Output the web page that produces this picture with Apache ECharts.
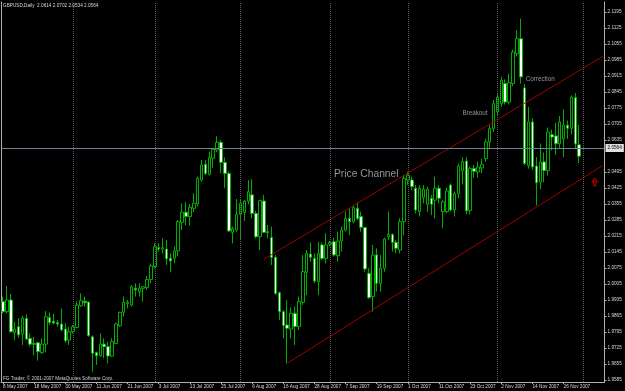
<!DOCTYPE html>
<html>
<head>
<meta charset="utf-8">
<script src="https://cdn.jsdelivr.net/npm/echarts@6/dist/echarts.min.js"></script>
<style>
  html, body { margin: 0; padding: 0; background: #000; }
  #chart { width: 625px; height: 391px; }
</style>
</head>
<body>
<div id="chart"></div>
<script>
// GBPUSD daily, one bar per trading day from 8 May 2007 to 30 Nov 2007
const opens = [
  1.9928, 1.9884, 1.9935, 1.9793, 1.9818, 1.9786, 1.9855, 1.9767, 1.9745, 1.9748,
  1.9705, 1.9742, 1.9858, 1.9842, 1.9836, 1.9830, 1.9808, 1.9760, 1.9796, 1.9815,
  1.9910, 1.9930, 1.9926, 1.9774, 1.9705, 1.9691, 1.9742, 1.9731, 1.9690, 1.9745,
  1.9823, 1.9881, 1.9920, 1.9913, 1.9986, 1.9971, 1.9986, 1.9990, 2.0025, 2.0081,
  2.0164, 2.0158, 2.0158, 2.0118, 2.0118, 2.0150, 2.0275, 2.0319, 2.0300, 2.0336,
  2.0355, 2.0460, 2.0529, 2.0485, 2.0555, 2.0591, 2.0625, 2.0537, 2.0489, 2.0231,
  2.0241, 2.0310, 2.0319, 2.0368, 2.0395, 2.0314, 2.0212, 2.0368, 2.0234, 2.0209,
  2.0122, 1.9967, 1.9884, 1.9826, 1.9808, 1.9877, 1.9819, 1.9925, 2.0056, 2.0136,
  2.0117, 2.0015, 2.0176, 2.0117, 2.0179, 2.0190, 2.0129, 2.0193, 2.0241, 2.0292,
  2.0278, 2.0336, 2.0300, 2.0252, 2.0052, 1.9950, 2.0132, 2.0008, 2.0074, 2.0212,
  2.0222, 2.0187, 2.0154, 2.0278, 2.0460, 2.0460, 2.0424, 2.0322, 2.0384, 2.0354,
  2.0380, 2.0372, 2.0424, 2.0322, 2.0322, 2.0438, 2.0330, 2.0400, 2.0500, 2.0543,
  2.0327, 2.0510, 2.0495, 2.0513, 2.0553, 2.0626, 2.0685, 2.0758, 2.0794, 2.0882,
  2.0801, 2.0882, 2.1013, 2.1078, 2.0863, 2.0524, 2.0714, 2.0521, 2.0451, 2.0539,
  2.0502, 2.0658, 2.0653, 2.0619, 2.0640, 2.0700, 2.0686, 2.0820, 2.0614
];
const highs = [
  1.9950, 1.9996, 1.9961, 1.9840, 1.9855, 1.9866, 1.9872, 1.9789, 1.9774, 1.9753,
  1.9767, 1.9887, 1.9881, 1.9874, 1.9847, 1.9898, 1.9833, 1.9818, 1.9826, 1.9928,
  1.9964, 1.9950, 1.9928, 1.9780, 1.9709, 1.9789, 1.9767, 1.9753, 1.9767, 1.9836,
  1.9884, 1.9950, 1.9935, 2.0000, 2.0008, 2.0008, 1.9996, 2.0040, 2.0095, 2.0183,
  2.0183, 2.0205, 2.0198, 2.0139, 2.0169, 2.0285, 2.0358, 2.0363, 2.0354, 2.0402,
  2.0475, 2.0548, 2.0548, 2.0584, 2.0601, 2.0652, 2.0635, 2.0559, 2.0497, 2.0256,
  2.0377, 2.0373, 2.0373, 2.0460, 2.0464, 2.0325, 2.0373, 2.0395, 2.0263, 2.0256,
  2.0132, 1.9972, 1.9891, 1.9935, 1.9902, 1.9906, 1.9950, 2.0132, 2.0154, 2.0187,
  2.0139, 2.0190, 2.0187, 2.0227, 2.0193, 2.0208, 2.0234, 2.0256, 2.0322, 2.0336,
  2.0351, 2.0362, 2.0322, 2.0256, 2.0074, 2.0176, 2.0161, 2.0132, 2.0208, 2.0322,
  2.0227, 2.0198, 2.0292, 2.0482, 2.0496, 2.0475, 2.0438, 2.0438, 2.0438, 2.0431,
  2.0394, 2.0475, 2.0438, 2.0372, 2.0426, 2.0445, 2.0410, 2.0532, 2.0560, 2.0560,
  2.0520, 2.0525, 2.0540, 2.0553, 2.0640, 2.0700, 2.0810, 2.0840, 2.0911, 2.0900,
  2.0925, 2.1030, 2.1115, 2.1166, 2.0880, 2.0780, 2.0730, 2.0560, 2.0620, 2.0580,
  2.0690, 2.0680, 2.0710, 2.0740, 2.0770, 2.0720, 2.0830, 2.0840, 2.0702
];
const lows = [
  1.9877, 1.9877, 1.9792, 1.9760, 1.9770, 1.9738, 1.9760, 1.9731, 1.9694, 1.9670,
  1.9699, 1.9706, 1.9826, 1.9828, 1.9818, 1.9799, 1.9748, 1.9738, 1.9789, 1.9811,
  1.9906, 1.9906, 1.9774, 1.9621, 1.9651, 1.9687, 1.9680, 1.9658, 1.9687, 1.9742,
  1.9818, 1.9862, 1.9898, 1.9906, 1.9950, 1.9950, 1.9928, 1.9979, 2.0008, 2.0073,
  2.0147, 2.0139, 2.0088, 2.0056, 2.0096, 2.0125, 2.0241, 2.0263, 2.0260, 2.0319,
  2.0344, 2.0453, 2.0482, 2.0479, 2.0514, 2.0581, 2.0489, 2.0424, 2.0234, 2.0183,
  2.0234, 2.0198, 2.0281, 2.0354, 2.0292, 2.0205, 2.0154, 2.0227, 2.0205, 2.0088,
  1.9957, 1.9848, 1.9767, 1.9658, 1.9767, 1.9738, 1.9804, 1.9913, 1.9957, 2.0103,
  2.0008, 1.9957, 2.0110, 2.0095, 2.0170, 2.0125, 2.0103, 2.0147, 2.0234, 2.0219,
  2.0271, 2.0285, 2.0234, 2.0059, 1.9940, 1.9884, 1.9972, 1.9972, 2.0059, 2.0198,
  2.0147, 2.0139, 2.0139, 2.0219, 2.0438, 2.0416, 2.0314, 2.0300, 2.0358, 2.0322,
  2.0307, 2.0292, 2.0358, 2.0249, 2.0314, 2.0322, 2.0300, 2.0379, 2.0440, 2.0310,
  2.0310, 2.0470, 2.0470, 2.0490, 2.0540, 2.0600, 2.0670, 2.0740, 2.0780, 2.0790,
  2.0790, 2.0870, 2.1000, 2.0882, 2.0525, 2.0510, 2.0505, 2.0349, 2.0420, 2.0450,
  2.0480, 2.0590, 2.0570, 2.0600, 2.0560, 2.0640, 2.0660, 2.0600, 2.0534
];
const closes = [
  1.9884, 1.9935, 1.9796, 1.9808, 1.9782, 1.9855, 1.9764, 1.9742, 1.9741, 1.9709,
  1.9742, 1.9862, 1.9837, 1.9834, 1.9830, 1.9804, 1.9757, 1.9796, 1.9818, 1.9913,
  1.9932, 1.9923, 1.9779, 1.9702, 1.9691, 1.9742, 1.9731, 1.9690, 1.9753, 1.9830,
  1.9881, 1.9925, 1.9926, 1.9993, 1.9979, 1.9987, 1.9993, 2.0025, 2.0084, 2.0168,
  2.0158, 2.0164, 2.0115, 2.0106, 2.0150, 2.0278, 2.0319, 2.0300, 2.0341, 2.0358,
  2.0467, 2.0526, 2.0489, 2.0559, 2.0594, 2.0625, 2.0537, 2.0489, 2.0237, 2.0247,
  2.0310, 2.0358, 2.0368, 2.0409, 2.0314, 2.0212, 2.0370, 2.0231, 2.0230, 2.0121,
  1.9964, 1.9884, 1.9823, 1.9811, 1.9877, 1.9819, 1.9928, 2.0059, 2.0139, 2.0122,
  2.0018, 2.0139, 2.0117, 2.0176, 2.0186, 2.0132, 2.0193, 2.0241, 2.0292, 2.0278,
  2.0339, 2.0292, 2.0253, 2.0071, 1.9945, 2.0132, 2.0008, 2.0074, 2.0202, 2.0222,
  2.0187, 2.0161, 2.0278, 2.0467, 2.0482, 2.0431, 2.0329, 2.0424, 2.0419, 2.0419,
  2.0354, 2.0424, 2.0380, 2.0365, 2.0412, 2.0329, 2.0400, 2.0521, 2.0540, 2.0325,
  2.0510, 2.0498, 2.0517, 2.0527, 2.0626, 2.0685, 2.0794, 2.0823, 2.0896, 2.0801,
  2.0886, 2.1020, 2.1078, 2.0911, 2.0532, 2.0714, 2.0517, 2.0448, 2.0539, 2.0502,
  2.0670, 2.0648, 2.0619, 2.0714, 2.0700, 2.0686, 2.0823, 2.0618, 2.0564
];

// date labels, one every 8 bars
const xLabels = [
  '8 May 2007', '18 May 2007', '30 May 2007', '11 Jun 2007', '21 Jun 2007',
  '3 Jul 2007', '13 Jul 2007', '25 Jul 2007', '6 Aug 2007', '16 Aug 2007',
  '28 Aug 2007', '7 Sep 2007', '19 Sep 2007', '1 Oct 2007', '11 Oct 2007',
  '23 Oct 2007', '2 Nov 2007', '14 Nov 2007', '26 Nov 2007'
];
const yTicks = [
  1.9585, 1.9655, 1.9725, 1.9795, 1.9865, 1.9935, 2.0005, 2.0075, 2.0145, 2.0215,
  2.0285, 2.0355, 2.0425, 2.0495, 2.0635, 2.0705, 2.0775, 2.0845, 2.0915,
  2.0985, 2.1055, 2.1125, 2.1195
];
// first bar of each month (vertical grid)
const monthStarts = [18, 39, 61, 84, 104, 127, 149];
// hand-drawn trend channel, [bar index, price]
const upperChannel = [[67, 2.0113], [154, 2.1000]];
const lowerChannel = [[73, 1.9658], [154, 2.0523]];
const lastPrice = 2.0564;
const ohlcTitle = 'GBPUSD,Daily  2.0614 2.0702 2.0534 2.0564';

const nSlots = 155; // bars + empty right margin
const categories = [];
for (let i = 0; i < nSlots; i++) {
  categories.push(i % 8 === 0 && xLabels[i / 8] ? xLabels[i / 8] : 'b' + i);
}
const showLabel = (idx) => idx % 8 === 0 && idx / 8 < xLabels.length;

const candles = opens.map((o, i) => [o, closes[i], lows[i], highs[i]]);

const smallFont = "'Liberation Sans', Arial, sans-serif";
const smallSize = 4.7;
const yMin = 1.95763, yMax = 2.12388;
const upArrow = 'path://M3,0 L6,3.5 L4.2,3.5 L4.2,8 L1.8,8 L1.8,3.5 L0,3.5 Z';

const chart = echarts.init(document.getElementById('chart'));
chart.setOption({
  backgroundColor: '#000000',
  animation: false,
  title: {
    text: ohlcTitle,
    left: 3,
    top: 3,
    padding: 0,
    textStyle: { color: '#d8d8d8', fontSize: smallSize, fontWeight: 'normal', fontFamily: smallFont }
  },
  graphic: [{
    type: 'text',
    left: 3,
    top: 376,
    style: { text: 'FG Trader, © 2001-2007 MetaQuotes Software Corp.', fill: '#d0d0d0', font: smallSize + 'px ' + smallFont }
  }],
  grid: { left: 0, right: 20.5, top: 2, bottom: 9 },
  xAxis: {
    type: 'category',
    data: categories,
    boundaryGap: true,
    axisLine: { show: true, lineStyle: { color: '#b0b0b0', width: 1 } },
    axisTick: { show: true, interval: showLabel, alignWithLabel: true, length: 2, lineStyle: { color: '#b0b0b0' } },
    axisLabel: {
      interval: showLabel,
      align: 'left',
      margin: 2.5,
      color: '#d8d8d8',
      fontSize: smallSize,
      fontFamily: smallFont
    },
    splitLine: { show: false }
  },
  yAxis: [{
    type: 'value',
    position: 'right',
    min: yMin,
    max: yMax,
    scale: true,
    axisLine: { show: true, lineStyle: { color: '#b0b0b0', width: 1 } },
    axisTick: { show: true, customValues: yTicks, length: 2, lineStyle: { color: '#b0b0b0' } },
    axisLabel: {
      customValues: yTicks,
      margin: 3,
      color: '#d8d8d8',
      fontSize: smallSize,
      fontFamily: smallFont,
      formatter: (v) => v.toFixed(4)
    },
    splitLine: { show: false }
  }, {
    type: 'value',
    position: 'left',
    min: yMin,
    max: yMax,
    axisLine: { show: true, lineStyle: { color: '#b0b0b0', width: 1 } },
    axisTick: { show: false },
    axisLabel: { show: false },
    splitLine: { show: false }
  }],
  series: [{
    type: 'candlestick',
    data: candles,
    barWidth: 3,
    itemStyle: {
      color: '#000000',
      color0: '#ffffff',
      borderColor: '#00b000',
      borderColor0: '#00b000',
      borderWidth: 1
    },
    markLine: {
      silent: true,
      symbol: ['none', 'none'],
      animation: false,
      data: [
        ...monthStarts.map((i) => ({
          xAxis: i,
          label: { show: false },
          lineStyle: { type: 'dotted', color: '#5c5c5c', width: 1 }
        })),
        {
          yAxis: lastPrice,
          lineStyle: { type: 'solid', color: '#6f8298', width: 1 },
          label: {
            show: true,
            position: 'end',
            distance: 1,
            formatter: lastPrice.toFixed(4),
            color: '#000000',
            backgroundColor: '#e0e0e0',
            padding: [1.5, 2],
            fontSize: smallSize,
            fontFamily: smallFont
          }
        }
      ]
    },
    markPoint: {
      silent: true,
      symbolSize: 0,
      animation: false,
      data: [
        { coord: [85, 2.0486], label: { show: true, position: 'right', distance: 0, formatter: 'Price Channel', color: '#959595', fontSize: 10.3, fontFamily: 'Liberation Sans' } },
        { coord: [118, 2.0750], label: { show: true, position: 'right', distance: 0, formatter: 'Breakout', color: '#959595', fontSize: 6.3, fontFamily: 'Liberation Sans' } },
        { coord: [134, 2.0902], label: { show: true, position: 'right', distance: 1, formatter: 'Correction', color: '#959595', fontSize: 6.3, fontFamily: 'Liberation Sans' } },
        {
          coord: [152, 2.0451],
          symbol: upArrow,
          symbolSize: [5, 7],
          itemStyle: { color: 'rgba(0,0,0,0)', borderColor: '#c80000', borderWidth: 1 },
          label: { show: false }
        }
      ]
    }
  }, {
    type: 'line',
    data: upperChannel,
    symbol: 'none',
    silent: true,
    lineStyle: { color: '#a00000', width: 1 }
  }, {
    type: 'line',
    data: lowerChannel,
    symbol: 'none',
    silent: true,
    lineStyle: { color: '#a00000', width: 1 }
  }]
});
</script>
</body>
</html>
